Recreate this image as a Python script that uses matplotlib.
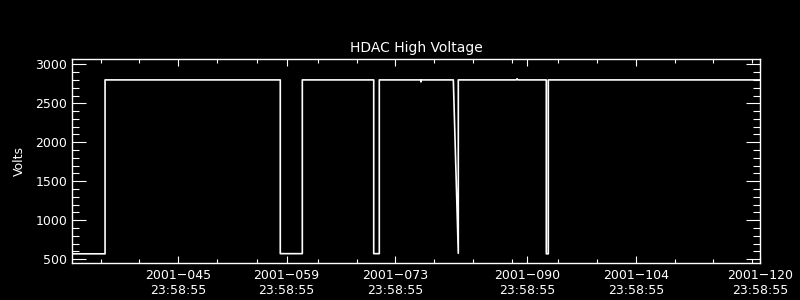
import numpy as np
import matplotlib.pyplot as plt
from matplotlib.ticker import MultipleLocator

# HDAC high voltage vs time (day of year 2001, fractional)
doy = [31.34, 35.6, 35.6, 58.18, 58.18, 61.02, 61.02, 70.22, 70.22, 70.94, 70.94,
       76.25, 76.3, 76.35, 80.48, 81.12, 81.12, 88.6, 88.7, 88.8, 92.46, 92.46,
       92.72, 92.72, 120.0]
volts = [570, 570, 2800, 2800, 572, 572, 2800, 2800, 572, 572, 2800,
         2800, 2775, 2800, 2800, 577, 2800, 2800, 2815, 2800, 2800, 570,
         570, 2800, 2800]

tick_doy = [44.999, 58.999, 72.999, 89.999, 103.999, 119.999]
tick_labels = ["2001\u2212045\n23:58:55", "2001\u2212059\n23:58:55", "2001\u2212073\n23:58:55",
               "2001\u2212090\n23:58:55", "2001\u2212104\n23:58:55", "2001\u2212120\n23:58:55"]
minor_doy = [35.08, 39.97, 50.03, 55.14, 63.04, 68.07, 77.99, 83.0, 88.04,
             93.97, 98.99, 109.05, 113.95, 118.97]

fig = plt.figure(figsize=(8, 3), dpi=100, facecolor='black')
ax = fig.add_axes([0.09, 0.1233, 0.86, 0.68], facecolor='black')

ax.plot(doy, volts, color='white', lw=1.2)

ax.set_xlim(31.34, 119.999)
ax.set_ylim(452, 3068)

ax.set_xticks(tick_doy)
ax.set_xticklabels(tick_labels)
ax.set_xticks(minor_doy, minor=True)
ax.yaxis.set_major_locator(MultipleLocator(500))
ax.yaxis.set_minor_locator(MultipleLocator(100))

for s in ax.spines.values():
    s.set_color('white')
    s.set_linewidth(1)

ax.tick_params(axis='both', which='both', direction='in', colors='white',
               top=True, right=True, width=0.8, labelsize=9)
ax.tick_params(axis='x', which='major', length=5, pad=4)
ax.tick_params(axis='x', which='minor', length=3)
ax.tick_params(axis='y', which='major', length=10, pad=3.5)
ax.tick_params(axis='y', which='minor', length=5)

ax.set_title("HDAC High Voltage", color='white', fontsize=10, pad=5)
ax.set_ylabel("Volts", color='white', fontsize=9, labelpad=7)

fig.savefig("out.png", facecolor='black')
